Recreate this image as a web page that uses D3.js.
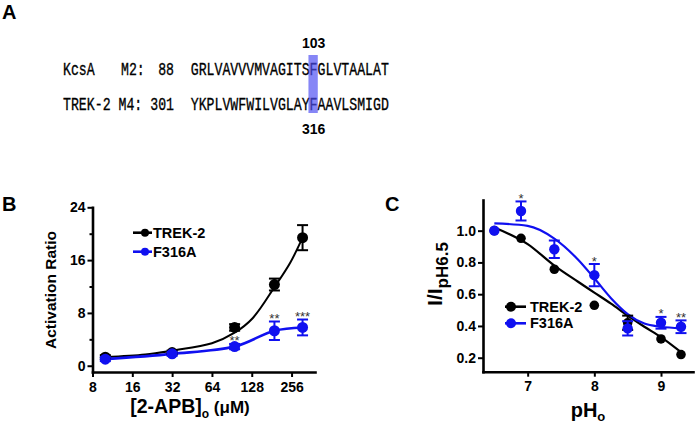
<!DOCTYPE html>
<html>
<head>
<meta charset="utf-8">
<script src="https://cdn.jsdelivr.net/npm/d3@7"></script>
<style>
  body { margin: 0; background: #fff; }
  text { font-family: Arial, "Liberation Sans", sans-serif; }
</style>
</head>
<body>
<div id="fig"></div>
<script>
// ---- panel A: alignment ----
const seqNames = ["KcsA", "TREK-2"];
const seqSegments = ["M2:", "M4:"];
const seqStarts = ["88", "301"];
const seqs = ["GRLVAVVVMVAGITSFGLVTAALAT", "YKPLVWFWILVGLAYFAAVLSMIGD"];
const hiIndex = 15;
const hiLabels = ["103", "316"];

// ---- panel B: 2-APB dose response ----
const doseB = [10, 32, 95, 190, 310];
const trekB = [1.3, 2.0, 5.8, 12.3, 19.4];
const trekBErr = [0.3, 0.3, 0.5, 0.9, 1.9];
const f316B = [1.0, 1.8, 2.9, 5.3, 5.8];
const f316BErr = [0.3, 0.3, 0.4, 1.4, 1.2];
const sigB = ["", "", "**", "**", "***"];
// fitted TREK-2 curve
const fitDoseB = [10, 20, 32, 64, 95, 130, 190, 250, 310];
const fitTrekB = [1.3, 1.7, 2.3, 3.4, 5.0, 7.2, 11.9, 15.6, 19.4];
const xTicksB = [8, 16, 32, 64, 128, 256];
const yTicksB = [0, 8, 16, 24];
const yMinorB = [4, 12, 20];

// ---- panel C: pH dependence ----
const phC = [6.5, 6.9, 7.4, 8.0, 8.5, 9.0, 9.3];
const trekC = [1.0, 0.952, 0.757, 0.53, 0.42, 0.318, 0.22];
const trekCErr = [0, 0, 0, 0, 0.045, 0, 0];
const f316C = [1.0, 1.124, 0.883, 0.72, 0.385, 0.42, 0.395];
const f316CErr = [0, 0.06, 0.055, 0.07, 0.045, 0.037, 0.04];
const sigC = ["", "*", "", "*", "", "*", "**"];
// fitted curves
const fitPh = [6.5, 7.0, 7.4, 7.75, 8.0, 8.25, 8.5, 8.75, 9.0, 9.3];
const fitTrekC = [1.02, 0.915, 0.78, 0.68, 0.61, 0.54, 0.465, 0.395, 0.33, 0.235];
const fitF316C = [1.046, 1.03, 0.95, 0.82, 0.70, 0.575, 0.475, 0.415, 0.395, 0.385];
const xTicksC = [7, 8, 9];
const yTicksC = [0.2, 0.4, 0.6, 0.8, 1.0];

const blue = "#1010f0";

const svg = d3.select("#fig").append("svg")
  .attr("width", 697).attr("height", 423);

function panelLabel(t, x, y) {
  svg.append("text").attr("x", x).attr("y", y)
    .attr("font-size", 20).attr("font-weight", "bold").text(t);
}
panelLabel("A", 2, 19);
panelLabel("B", 2, 211);
panelLabel("C", 385, 211);

//////////
// A //
//////////
const charW = 7.93;
const seqX = 190.7;
const rowY = [75, 110];
const mono = "'Liberation Mono', 'DejaVu Sans Mono', monospace";
const monoSize = 19;
const squeeze = charW / (monoSize * 0.6);   // mono glyphs are 0.6em wide

// text squeezed horizontally so each letter takes charW
function monoText(x, y, s, anchor) {
  const w = s.length * charW;
  const x0 = anchor == "end" ? x - w : x;
  svg.append("g")
    .attr("transform", `translate(${x0},${y}) scale(${squeeze},1)`)
    .append("text")
      .style("font-family", mono).attr("font-size", monoSize)
      .attr("fill", "#000").attr("stroke", "#000").attr("stroke-width", 0.35)
      .text(s);
}

seqNames.forEach((n, i) => {
  monoText(63, rowY[i], n);
  monoText(i == 0 ? 121 : 118.5, rowY[i], seqSegments[i]);
  monoText(174, rowY[i], seqStarts[i], "end");
  monoText(seqX, rowY[i], seqs[i]);
});

// highlighted column on top of the letters
svg.append("rect")
  .attr("x", seqX + hiIndex * charW - 1.2)
  .attr("y", 55)
  .attr("width", charW + 1.4)
  .attr("height", 58)
  .attr("fill", "#4d4df2")
  .attr("opacity", 0.68);

svg.append("text").attr("x", seqX + hiIndex * charW + charW / 2).attr("y", 48)
  .attr("text-anchor", "middle").attr("font-size", 14).attr("font-weight", "bold").text(hiLabels[0]);
svg.append("text").attr("x", seqX + hiIndex * charW + charW / 2).attr("y", 134)
  .attr("text-anchor", "middle").attr("font-size", 14).attr("font-weight", "bold").text(hiLabels[1]);

//////////
// helpers //
//////////
function styleAxis(g) {
  g.select(".domain").attr("stroke-width", 2.6).attr("stroke-linecap", "square");
  g.selectAll(".tick line").attr("stroke-width", 2);
  g.selectAll(".tick text").attr("font-size", 14).attr("font-weight", "bold")
    .attr("font-family", "Arial, 'Liberation Sans', sans-serif").attr("fill", "#000");
}

function drawSeries(g, xs, ys, errs, x, y, color, r) {
  xs.forEach((d, i) => {
    if (errs[i] > 0) {
      const cx = x(d);
      g.append("line").attr("x1", cx).attr("x2", cx)
        .attr("y1", y(ys[i] - errs[i])).attr("y2", y(ys[i] + errs[i]))
        .attr("stroke", color).attr("stroke-width", 2);
      [ys[i] - errs[i], ys[i] + errs[i]].forEach(v => {
        g.append("line").attr("x1", cx - 5.5).attr("x2", cx + 5.5)
          .attr("y1", y(v)).attr("y2", y(v))
          .attr("stroke", color).attr("stroke-width", 2);
      });
    }
  });
  g.selectAll(null).data(xs).join("circle")
    .attr("cx", d => x(d)).attr("cy", (d, i) => y(ys[i]))
    .attr("r", r).attr("fill", color);
}

function drawStars(g, xs, ys, errs, sig, x, y) {
  xs.forEach((d, i) => {
    if (!sig[i]) return;
    g.append("text").attr("x", x(d)).attr("y", y(ys[i] + errs[i]) + 1.5)
      .attr("text-anchor", "middle").attr("font-size", 13).attr("fill", "#333")
      .text(sig[i]);
  });
}

//////////
// B //
//////////
const xB = d3.scaleLog().base(2).domain([8, 385]).range([92.5, 315]);
const yB = d3.scaleLinear().domain([-0.95, 24]).range([372, 207.3]);
const gB = svg.append("g");

gB.append("g").attr("transform", "translate(0,372)")
  .call(d3.axisBottom(xB).tickValues(xTicksB).tickFormat(d3.format("d"))
    .tickSize(5).tickPadding(5).tickSizeOuter(0))
  .call(styleAxis);
gB.append("g").attr("transform", "translate(92.5,0)")
  .call(d3.axisLeft(yB).tickValues(yMinorB).tickFormat("").tickSize(3).tickSizeOuter(0))
  .call(g => g.select(".domain").remove())
  .call(g => g.selectAll(".tick line").attr("stroke-width", 2));
gB.append("g").attr("transform", "translate(92.5,0)")
  .call(d3.axisLeft(yB).tickValues(yTicksB).tickSize(5).tickPadding(2).tickSizeOuter(0))
  .call(styleAxis);

const lineB = d3.line().x(d => xB(d[0])).y(d => yB(d[1])).curve(d3.curveCatmullRom);
gB.append("path").datum(fitDoseB.map((d, i) => [d, fitTrekB[i]]))
  .attr("d", lineB).attr("fill", "none").attr("stroke", "#000").attr("stroke-width", 2);
gB.append("path").datum(doseB.map((d, i) => [d, f316B[i]]))
  .attr("d", lineB).attr("fill", "none").attr("stroke", blue).attr("stroke-width", 2.6);

drawSeries(gB, doseB, trekB, trekBErr, xB, yB, "#000", 5.5);
drawSeries(gB, doseB, f316B, f316BErr, xB, yB, blue, 5.5);
drawStars(gB, doseB, f316B, f316BErr, sigB, xB, yB);

// legend B
[["TREK-2", "#000", 232.7], ["F316A", blue, 251.7]].forEach(([name, c, ly]) => {
  gB.append("line").attr("x1", 133).attr("x2", 152).attr("y1", ly).attr("y2", ly)
    .attr("stroke", c).attr("stroke-width", 2.6);
  gB.append("circle").attr("cx", 145).attr("cy", ly).attr("r", 4).attr("fill", c);
  gB.append("text").attr("x", 153).attr("y", ly + 5).attr("font-size", 14.5)
    .attr("font-weight", "bold").text(name);
});

// axis titles B
gB.append("text").attr("transform", "translate(56,290) rotate(-90)")
  .attr("text-anchor", "middle").attr("font-size", 15.5).attr("font-weight", "bold")
  .text("Activation Ratio");
const xtB = gB.append("text").attr("x", 190).attr("y", 413)
  .attr("text-anchor", "middle").attr("font-weight", "bold");
xtB.append("tspan").attr("font-size", 19.5).text("[2-APB]");
xtB.append("tspan").attr("font-size", 12).attr("dy", 5).text("o");
xtB.append("tspan").attr("font-size", 17).attr("dy", -5).text(" (\u03bcM)");

//////////
// C //
//////////
const xC = d3.scaleLinear().domain([6.33, 9.48]).range([483, 693]);
const yC = d3.scaleLinear().domain([0.112, 1.193]).range([371.7, 200]);
const gC = svg.append("g");

gC.append("g").attr("transform", "translate(0,371.7)")
  .call(d3.axisBottom(xC).tickValues(xTicksC).tickFormat(d3.format("d"))
    .tickSize(5).tickPadding(4).tickSizeOuter(0))
  .call(styleAxis);
gC.append("g").attr("transform", "translate(483,0)")
  .call(d3.axisLeft(yC).tickValues(yTicksC).tickFormat(d3.format(".1f"))
    .tickSize(5).tickPadding(2).tickSizeOuter(0))
  .call(styleAxis);

const lineC = d3.line().x(d => xC(d[0])).y(d => yC(d[1])).curve(d3.curveMonotoneX);
gC.append("path").datum(fitPh.map((d, i) => [d, fitTrekC[i]]))
  .attr("d", lineC).attr("fill", "none").attr("stroke", "#000").attr("stroke-width", 2.2);
gC.append("path").datum(fitPh.map((d, i) => [d, fitF316C[i]]))
  .attr("d", lineC).attr("fill", "none").attr("stroke", blue).attr("stroke-width", 2.2);

drawSeries(gC, phC, trekC, trekCErr, xC, yC, "#000", 4.8);
drawSeries(gC, phC, f316C, f316CErr, xC, yC, blue, 5.2);
drawStars(gC, phC, f316C, f316CErr, sigC, xC, yC);

// legend C
[["TREK-2", "#000", 306.7], ["F316A", blue, 323.3]].forEach(([name, c, ly]) => {
  gC.append("line").attr("x1", 505).attr("x2", 526).attr("y1", ly).attr("y2", ly)
    .attr("stroke", c).attr("stroke-width", 2.6);
  gC.append("circle").attr("cx", 511).attr("cy", ly).attr("r", 5).attr("fill", c);
  gC.append("text").attr("x", 530).attr("y", ly + 5).attr("font-size", 14.5)
    .attr("font-weight", "bold").text(name);
});

// axis titles C
const ytC = gC.append("text").attr("transform", "translate(442,274) rotate(-90)")
  .attr("text-anchor", "middle").attr("font-weight", "bold");
ytC.append("tspan").attr("font-size", 21).text("I/I");
ytC.append("tspan").attr("font-size", 17).attr("dy", 6).text("pH6.5");
const xtC = gC.append("text").attr("x", 588).attr("y", 417)
  .attr("text-anchor", "middle").attr("font-weight", "bold");
xtC.append("tspan").attr("font-size", 20).text("pH");
xtC.append("tspan").attr("font-size", 13).attr("dy", 4).text("o");
</script>
</body>
</html>
